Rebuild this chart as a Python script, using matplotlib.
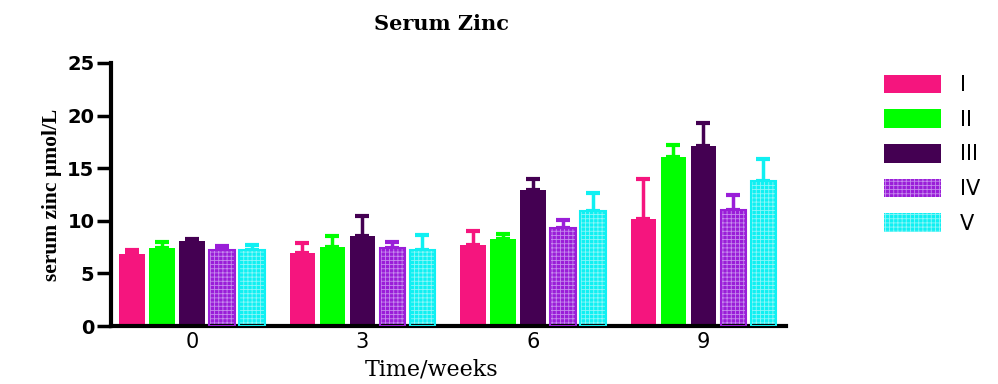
import numpy as np
import matplotlib
matplotlib.use("Agg")
from matplotlib import pyplot as plt
from matplotlib.patches import Patch

# data
weeks = ["0", "3", "6", "9"]
groups = ["I", "II", "III", "IV", "V"]
means = {
    "I":   [6.84, 6.93, 7.66, 10.21],
    "II":  [7.44, 7.50, 8.30, 16.10],
    "III": [8.05, 8.59, 12.95, 17.11],
    "IV":  [7.25, 7.38, 9.32, 11.00],
    "V":   [7.19, 7.25, 10.97, 13.77],
}
sd = {
    "I":   [0.41, 0.93, 1.34, 3.72],
    "II":  [0.56, 1.02, 0.48, 1.14],
    "III": [0.19, 1.84, 0.98, 2.16],
    "IV":  [0.38, 0.62, 0.79, 1.43],
    "V":   [0.47, 1.43, 1.69, 2.07],
}
colors = {"I": "#F5157E", "II": "#00FF00", "III": "#440052",
          "IV": "#9A1ED8", "V": "#10F0F2"}
hatch_col = {"IV": "#C68AEE", "V": "#8CF6F8"}

plt.rcParams['hatch.linewidth'] = 0.6

fig = plt.figure(figsize=(9.98, 3.84), dpi=100)
ax = fig.add_axes([111/998, 58/384, 675/998, 263/384])

x = np.arange(len(weeks))
step = 0.176
width = 0.152
for i, g in enumerate(groups):
    pos = x + (i - 2) * step
    if g in hatch_col:
        ax.bar(pos, means[g], width, color=colors[g], edgecolor=hatch_col[g],
               hatch='++++', linewidth=0, zorder=2)
        ax.bar(pos, means[g], width, fill=False, edgecolor=colors[g],
               linewidth=1.5, zorder=3)
    else:
        ax.bar(pos, means[g], width, color=colors[g], linewidth=0, zorder=2)
    ax.errorbar(pos, means[g], yerr=[np.zeros(len(weeks)), sd[g]], fmt='none',
                ecolor=colors[g], elinewidth=2.5, capsize=5, capthick=3, zorder=1)

ax.set_xlim(-0.475, 3.484)
ax.set_ylim(0, 25)
ax.set_yticks([0, 5, 10, 15, 20, 25])
ax.set_xticks(x)
ax.set_xticklabels(weeks, fontsize=15, family="DejaVu Sans")
for lab in ax.get_yticklabels():
    lab.set_fontsize(14)
    lab.set_fontweight("bold")
    lab.set_family("DejaVu Sans")

ax.spines['top'].set_visible(False)
ax.spines['right'].set_visible(False)
ax.spines['left'].set_linewidth(3)
ax.spines['bottom'].set_linewidth(3)
ax.tick_params(axis='y', length=10, width=2.5, pad=2)
ax.tick_params(axis='x', length=0, pad=4)

ax.set_title("Serum Zinc", fontsize=15, fontweight="bold",
             family="DejaVu Serif", pad=24, x=0.49)
ax.set_ylabel("serum zinc µmol/L", fontsize=15.5, fontweight="bold",
              family="Liberation Serif", labelpad=4)
ax.set_xlabel("Time/weeks", fontsize=16, family="DejaVu Serif")
ax.xaxis.set_label_coords(0.475, -0.125)

handles = []
for g in groups:
    if g in hatch_col:
        handles.append(Patch(facecolor=colors[g], edgecolor=hatch_col[g],
                             hatch='++++', linewidth=0))
    else:
        handles.append(Patch(facecolor=colors[g], linewidth=0))
fig.legend(handles, groups, loc="upper left", bbox_to_anchor=(865/998, 1 - 56/384),
           frameon=False, handlelength=2.75, handleheight=1.0,
           labelspacing=0.68, handletextpad=0.9, prop={"family": "DejaVu Sans", "size": 15})

fig.savefig("out.png", dpi=100)
